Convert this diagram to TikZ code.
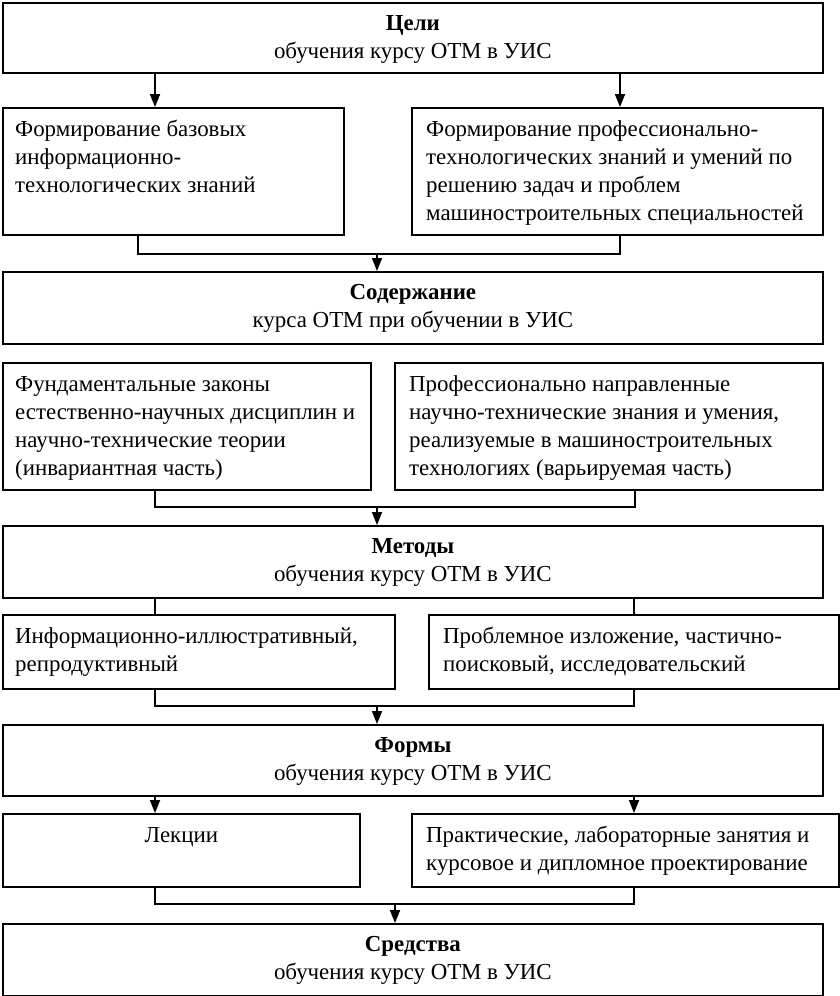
\documentclass[tikz,border=0pt]{standalone}
\usepackage{fontspec}
\setmainfont{Liberation Serif}
\usetikzlibrary{arrows.meta,calc}
\newcommand\dfont{\fontsize{22.9}{28}\selectfont}
\begin{document}
\begin{tikzpicture}[x=1pt,y=-1pt,
  frame/.style={draw, line width=1.8pt, inner sep=0pt, anchor=north west},
  body/.style={anchor=north west, inner sep=0pt, align=left, font=\dfont},
  head/.style={anchor=north, inner sep=0pt, align=center, font=\dfont},
  wire/.style={line width=1.8pt},
  arr/.style={wire, -{Triangle[length=13pt,width=10pt]}}]
\useasboundingbox[fill=white] (0,0) rectangle (840,996);
% boxes
\node[frame, minimum width=820pt, minimum height=70pt] (b1) at (2,2) {};
\node[frame, minimum width=341pt, minimum height=127pt] (b2l) at (2,107) {};
\node[frame, minimum width=411pt, minimum height=127pt] (b2r) at (411,107) {};
\node[frame, minimum width=820pt, minimum height=72pt] (b3) at (2,271) {};
\node[frame, minimum width=368pt, minimum height=127pt] (b4l) at (2,362) {};
\node[frame, minimum width=428pt, minimum height=127pt] (b4r) at (394,362) {};
\node[frame, minimum width=820pt, minimum height=72pt] (b5) at (2,525) {};
\node[frame, minimum width=392pt, minimum height=74pt] (b6l) at (2,614) {};
\node[frame, minimum width=410pt, minimum height=74pt] (b6r) at (428,614) {};
\node[frame, minimum width=820pt, minimum height=71pt] (b7) at (2,724) {};
\node[frame, minimum width=357pt, minimum height=73pt] (b8l) at (2,813) {};
\node[frame, minimum width=427pt, minimum height=73pt] (b8r) at (411,813) {};
\node[frame, minimum width=820pt, minimum height=72pt] (b9) at (2,923) {};
% texts
\node[head] (t1) at ([shift={(0,9)}]b1.north) {\strut\textbf{Цели}\\обучения курсу ОТМ в УИС};
\node[body] (t2l) at ([shift={(13,10)}]b2l.north west) {\strut Формирование базовых\\информационно-\\технологических знаний};
\node[body] (t2r) at ([shift={(15,10)}]b2r.north west) {\strut Формирование профессионально-\\технологических знаний и умений по\\решению задач и проблем\\машиностроительных специальностей};
\node[head] (t3) at ([shift={(0,9)}]b3.north) {\strut\textbf{Содержание}\\курса ОТМ при обучении в УИС};
\node[body] (t4l) at ([shift={(13,10)}]b4l.north west) {\strut Фундаментальные законы\\естественно-научных дисциплин и\\научно-технические теории\\(инвариантная часть)};
\node[body] (t4r) at ([shift={(15,10)}]b4r.north west) {\strut Профессионально направленные\\научно-технические знания и умения,\\реализуемые в машиностроительных\\технологиях (варьируемая часть)};
\node[head] (t5) at ([shift={(0,9)}]b5.north) {\strut\textbf{Методы}\\обучения курсу ОТМ в УИС};
\node[body] (t6l) at ([shift={(13,10)}]b6l.north west) {\strut Информационно-иллюстративный,\\репродуктивный};
\node[body] (t6r) at ([shift={(15,10)}]b6r.north west) {\strut Проблемное изложение, частично-\\поисковый, исследовательский};
\node[head] (t7) at ([shift={(0,9)}]b7.north) {\strut\textbf{Формы}\\обучения курсу ОТМ в УИС};
\node[head] (t8l) at ([shift={(0,10)}]b8l.north) {\strut Лекции};
\node[body] (t8r) at ([shift={(15,10)}]b8r.north west) {\strut Практические, лабораторные занятия и\\курсовое и дипломное проектирование};
\node[head] (t9) at ([shift={(0,9)}]b9.north) {\strut\textbf{Средства}\\обучения курсу ОТМ в УИС};
% helper coordinates
\coordinate (xa) at (155,0);
\coordinate (xb) at (620,0);
\coordinate (xc) at (138,0);
\coordinate (xd) at (635,0);
\coordinate (xe) at (634,0);
\coordinate (j1) at (377,254);
\coordinate (j2) at (377,507);
\coordinate (j3) at (377,706);
\coordinate (j4) at (395,904);
% connectors
\draw[arr] (b1.south -| xa) -- (b2l.north -| xa);
\draw[arr] (b1.south -| xb) -- (b2r.north -| xb);
\draw[wire] (b2l.south -| xc) |- (j1) -| (b2r.south -| xb);
\draw[arr] (j1) -- (b3.north -| j1);
\draw[wire] (b4l.south -| xa) |- (j2) -| (b4r.south -| xd);
\draw[arr] (j2) -- (b5.north -| j2);
\draw[wire] (b5.south -| xa) -- (b6l.north -| xa);
\draw[wire] (b5.south -| xe) -- (b6r.north -| xe);
\draw[wire] (b6l.south -| xa) |- (j3) -| (b6r.south -| xe);
\draw[arr] (j3) -- (b7.north -| j3);
\draw[arr] (b7.south -| xa) -- (b8l.north -| xa);
\draw[arr] (b7.south -| xe) -- (b8r.north -| xe);
\draw[wire] (b8l.south -| xa) |- (j4) -| (b8r.south -| xe);
\draw[arr] (j4) -- (b9.north -| j4);
\end{tikzpicture}
\end{document}
